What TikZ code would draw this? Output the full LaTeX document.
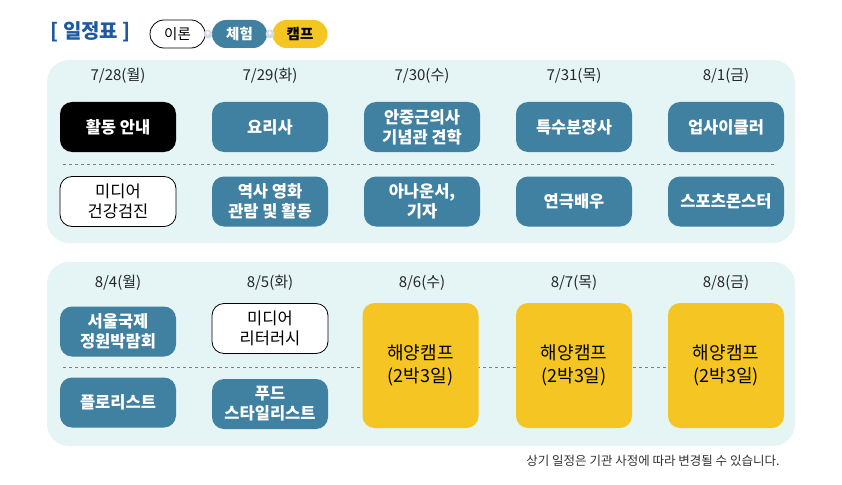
\documentclass[tikz,border=0pt]{standalone}
\usepackage{fontspec}
\setmainfont{Noto Sans CJK KR}
\usepackage{xcolor}
\usetikzlibrary{calc}
\usetikzlibrary{positioning}
\definecolor{panel}{RGB}{229,245,246}
\definecolor{teal}{RGB}{64,128,160}
\definecolor{camp}{RGB}{245,198,35}
\definecolor{titleblue}{RGB}{30,90,160}
\definecolor{plusgrey}{RGB}{210,218,228}

\begin{document}
\begin{tikzpicture}[x=1pt,y=-1pt]
		\tikzset{
			box/.style={rounded corners=12pt,minimum width=116pt,minimum height=50pt,
				align=center,inner sep=0pt,font=\bfseries\fontsize{16.5}{20}\selectfont},
			actbox/.style={box,fill=teal,text=white},
			talkbox/.style={box,fill=white,draw=black,line width=0.8pt,text=black,font=\fontsize{16.5}{20}\selectfont},
			guidebox/.style={box,fill=black,text=white},
			campbox/.style={box,fill=camp,text=black,minimum height=125pt,font=\fontsize{18}{23}\selectfont},
			datelabel/.style={font=\fontsize{15}{17}\selectfont,text=black!85},
			pill/.style={rounded corners=14pt,minimum width=55pt,minimum height=28pt,inner sep=0pt,
				font=\bfseries\fontsize{14.5}{16}\selectfont},
			plus/.style={circle,fill=plusgrey,minimum size=9pt,inner sep=0pt,text=white,font=\bfseries\fontsize{8}{8}\selectfont}
		}
		\useasboundingbox (0,0) rectangle (842,484);
		
		% title and legend
		\node[text=titleblue,font=\bfseries\fontsize{20}{22}\selectfont,anchor=west] (title) at (47,32) {[ 일정표 ]};
		\node[pill,draw=black,line width=0.8pt,fill=white,font=\fontsize{14.5}{16}\selectfont] (theory) at (177.5,34) {이론};
		\node[pill,fill=teal,text=white] (exp) at (239.5,34) {체험};
		\node[pill,fill=camp] (campkey) at (300,34) {캠프};
		\node[plus] (p1) at (208,34) {+};
		\node[plus] (p2) at (270,34) {+};
		
		% week 1
		\fill[panel,rounded corners=22pt] (47,60) rectangle (795,243);
		\coordinate (w1l) at (63,164);
		\coordinate (w1r) at (777,164);
		\draw[dashed,gray,line width=0.6pt] (w1l) -- (w1r);
		
		\node[datelabel] (d1) at (118,76) {7/28(월)};
		\node[datelabel] (d2) at (270,76) {7/29(화)};
		\node[datelabel] (d3) at (422,76) {7/30(수)};
		\node[datelabel] (d4) at (574,76) {7/31(목)};
		\node[datelabel] (d5) at (726,76) {8/1(금)};
		
		\node[guidebox] (a1) at (118,127) {활동 안내};
		\node[actbox] (a2) at (270,127) {요리사};
		\node[actbox] (a3) at (422,127) {안중근의사\\기념관 견학};
		\node[actbox] (a4) at (574,127) {특수분장사};
		\node[actbox] (a5) at (726,127) {업사이클러};
		
		\node[talkbox] (b1) at (118,201.5) {미디어\\건강검진};
		\node[actbox] (b2) at (270,201.5) {역사 영화\\관람 및 활동};
		\node[actbox] (b3) at (422,201.5) {아나운서,\\기자};
		\node[actbox] (b4) at (574,201.5) {연극배우};
		\node[actbox] (b5) at (726,201.5) {스포츠몬스터};
		
		% week 2
		\fill[panel,rounded corners=22pt] (47,262) rectangle (795,446);
		\coordinate (w2l) at (63,367);
		\coordinate (w2r) at (777,367);
		\draw[dashed,gray,line width=0.6pt] (w2l) -- (w2r);
		
		\node[datelabel] (e1) at (118,283) {8/4(월)};
		\node[datelabel] (e2) at (270,283) {8/5(화)};
		\node[datelabel] (e3) at (422,283) {8/6(수)};
		\node[datelabel] (e4) at (574,283) {8/7(목)};
		\node[datelabel] (e5) at (726,283) {8/8(금)};
		
		\node[actbox] (c1) at (118,331.5) {서울국제\\정원박람회};
		\node[talkbox] (c2) at (270,328.5) {미디어\\리터러시};
		\node[actbox] (f1) at (118,402.5) {플로리스트};
		\node[actbox] (f2) at (270,404) {푸드\\스타일리스트};
		
		\node[campbox] (k1) at (420.5,365.5) {해양캠프\\(2박3일)};
		\node[campbox] (k2) at (574,365.5) {해양캠프\\(2박3일)};
		\node[campbox] (k3) at (726,365.5) {해양캠프\\(2박3일)};
		
		\node[anchor=east,font=\fontsize{12.5}{14}\selectfont,text=black!80] (note) at (783,461) {상기 일정은 기관 사정에 따라 변경될 수 있습니다.};
		
\end{tikzpicture}
\end{document}
